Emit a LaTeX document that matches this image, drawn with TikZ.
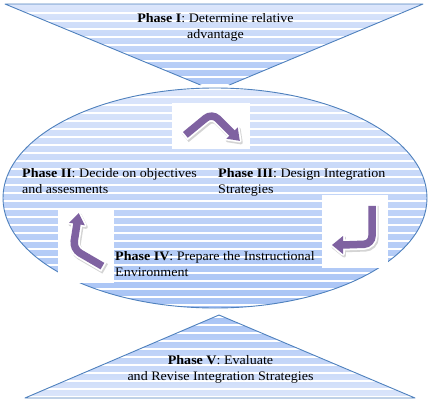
\documentclass[tikz,border=0pt]{standalone}
\usepackage{fontspec}
\setmainfont{Liberation Serif}[FakeStretch=1.08]
\begin{document}
\definecolor{edgeblue}{HTML}{4F81BD}
\definecolor{fillhi}{HTML}{DCE6FB}
\definecolor{filllo}{HTML}{A7C3F5}
\definecolor{arrowpurple}{HTML}{7F62A1}
\definecolor{arrowshade}{HTML}{D4D4D4}
% curved cycle arrow: #1 shaft path, #2 head polygon (open)
\newcommand\curvedarrow[2]{%
  \begin{scope}[shift={(1.2,1.8)}]
    \draw[arrowshade, line width=11pt, rounded corners=8pt] #1;
    \filldraw[arrowshade, line width=3.5pt, line join=round] #2 -- cycle;
  \end{scope}
  \draw[white, line width=11pt, rounded corners=8pt] #1;
  \filldraw[white, line width=3.5pt, line join=round] #2 -- cycle;
  \draw[arrowpurple, line width=7.5pt, rounded corners=8pt, shorten <=1.8pt] #1;
  \fill[arrowpurple] #2 -- cycle;
}
\begin{tikzpicture}[x=1pt, y=-1pt,
  outline/.style={draw=edgeblue, line width=0.9pt, line join=round},
  stripe/.style={white, line width=1.2pt},
  txt/.style={inner sep=0pt, anchor=base west, font=\fontsize{13}{16}\selectfont},
  ctxt/.style={inner sep=0pt, anchor=base, font=\fontsize{13}{16}\selectfont},
  whitebox/.style={fill=white, draw=none}]
\useasboundingbox (0,0) rectangle (429,402);

% Phase I: inverted triangle
\path[top color=fillhi, bottom color=filllo] (5,4) -- (423,4) -- (215,91) -- cycle;
\begin{scope}
  \clip (5,4) -- (423,4) -- (215,91) -- cycle;
  \foreach \y in {13,21,...,93} \draw[stripe] (0,\y) -- (429,\y);
\end{scope}
\draw[outline] (5,4) -- (423,4) -- (215,91) -- cycle;

% Phases II-IV: ellipse
\draw[white, line width=6pt] (215,198) ellipse [x radius=212pt, y radius=110pt];
\path[top color=fillhi, bottom color=filllo] (215,198) ellipse [x radius=212pt, y radius=110pt];
\begin{scope}
  \clip (215,198) ellipse [x radius=212pt, y radius=110pt];
  \foreach \y in {89,97,...,313} \draw[stripe] (0,\y) -- (429,\y);
\end{scope}
\draw[outline] (215,198) ellipse [x radius=212pt, y radius=110pt];

% Phase V: triangle
\path[top color=filllo, bottom color=fillhi] (219,315) -- (415,398) -- (25,398) -- cycle;
\begin{scope}
  \clip (219,315) -- (415,398) -- (25,398) -- cycle;
  \foreach \y in {317,325,...,397} \draw[stripe] (0,\y) -- (429,\y);
\end{scope}
\draw[outline] (219,315) -- (415,398) -- (25,398) -- cycle;

% arrow panels
\path[whitebox] (172,103) rectangle (250,149);
\path[whitebox] (322,195) rectangle (388,268);
\path[whitebox] (58,210) rectangle (114,283);

\curvedarrow{(184,136) -- (212,113) -- (233,134)}{(237.7,127.3) -- (239.8,140.8) -- (226.3,138.7)}
\curvedarrow{(372,204) -- (372,244) -- (342,245)}{(343,236) -- (332,245) -- (343,254)}
\curvedarrow{(104,267) -- (73,249) -- (77,223.5)}{(84.9,225.3) -- (78.7,213.1) -- (69.1,222.7)}

% labels
\node[ctxt] (p1a) at (215.5,22) {\textbf{Phase I}: Determine relative};
\node[ctxt] (p1b) at (215.5,38) {advantage};
\node[txt] (p2a) at (22,177) {\textbf{Phase II}: Decide on objectives};
\node[txt] (p2b) at (22,193) {and assesments};
\node[txt] (p3a) at (218,177) {\textbf{Phase III}: Design Integration};
\node[txt] (p3b) at (218,193) {Strategies};
\node[txt] (p4a) at (115,260) {\textbf{Phase IV}: Prepare the Instructional};
\node[txt] (p4b) at (115,276) {Environment};
\node[ctxt] (p5a) at (220.5,364) {\textbf{Phase V}: Evaluate};
\node[ctxt] (p5b) at (220.5,380) {and Revise Integration Strategies};
\end{tikzpicture}
\end{document}
